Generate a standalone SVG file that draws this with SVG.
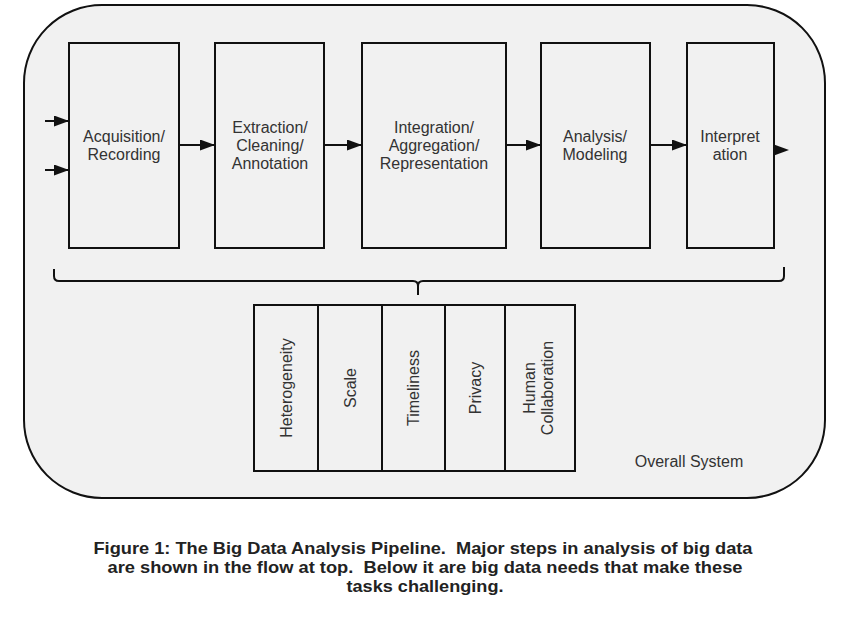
<svg xmlns="http://www.w3.org/2000/svg" width="851" height="632" viewBox="0 0 851 632">
<defs>
<marker id="ah" markerWidth="15" markerHeight="11" refX="15" refY="5.5" orient="auto" markerUnits="userSpaceOnUse">
<path d="M0,0 L15,5.5 L0,11 Z" fill="#111"/>
</marker>
<style>
.box{fill:none;stroke:#111;stroke-width:2}
.t{font-family:"Liberation Sans",Arial,sans-serif;font-size:16px;fill:#333;text-anchor:middle}
.c{stroke:#111;stroke-width:2;fill:none}
.cap{font-family:"Liberation Sans",Arial,sans-serif;font-size:17px;font-weight:bold;fill:#222;text-anchor:middle}
</style>
</defs>
<rect width="851" height="632" fill="#fff"/>
<g id="system">
<rect x="24" y="5" width="801" height="493" rx="78" ry="78" fill="#f1f1f1" stroke="#111" stroke-width="2"/>
<text x="689" y="467" class="t">Overall System</text>
</g>
<g id="acquisition">
<rect x="69" y="43" width="110" height="205" class="box"/>
<text class="t" x="124" y="142">Acquisition/</text>
<text class="t" x="124" y="160">Recording</text>
</g>
<g id="extraction">
<rect x="215" y="43" width="109" height="205" class="box"/>
<text class="t" x="270" y="133">Extraction/</text>
<text class="t" x="270" y="151">Cleaning/</text>
<text class="t" x="270" y="169">Annotation</text>
</g>
<g id="integration">
<rect x="362" y="43" width="144" height="205" class="box"/>
<text class="t" x="434" y="133">Integration/</text>
<text class="t" x="434" y="151">Aggregation/</text>
<text class="t" x="434" y="169">Representation</text>
</g>
<g id="analysis">
<rect x="541" y="43" width="109" height="205" class="box"/>
<text class="t" x="595" y="142">Analysis/</text>
<text class="t" x="595" y="160">Modeling</text>
</g>
<g id="interpretation">
<rect x="687" y="43" width="87" height="205" class="box"/>
<text class="t" x="730" y="142">Interpret</text>
<text class="t" x="730" y="160">ation</text>
</g>
<g id="connectors">
<line x1="45" y1="121" x2="69" y2="121" class="c" marker-end="url(#ah)"/>
<line x1="45" y1="170" x2="69" y2="170" class="c" marker-end="url(#ah)"/>
<line x1="179" y1="145" x2="215" y2="145" class="c" marker-end="url(#ah)"/>
<line x1="324" y1="145" x2="362" y2="145" class="c" marker-end="url(#ah)"/>
<line x1="506" y1="145" x2="541" y2="145" class="c" marker-end="url(#ah)"/>
<line x1="650" y1="145" x2="687" y2="145" class="c" marker-end="url(#ah)"/>
<path d="M774,144.5 L789,150 L774,155.5 Z" fill="#111"/>
<path d="M54,269 L54,276 Q54,281 59,281 L413,281 Q418,281 418,286 L418,295 M418,286 Q418,281 423,281 L779,281 Q784,281 784,276 L784,267" class="c"/>
</g>
<g id="needs">
<rect x="254" y="305" width="64" height="166" class="box"/>
<rect x="318" y="305" width="64" height="166" class="box"/>
<rect x="382" y="305" width="63" height="166" class="box"/>
<rect x="445" y="305" width="60" height="166" class="box"/>
<rect x="505" y="305" width="70" height="166" class="box"/>
<text class="t" transform="translate(292,388) rotate(-90)">Heterogeneity</text>
<text class="t" transform="translate(356,388) rotate(-90)">Scale</text>
<text class="t" transform="translate(419,388) rotate(-90)">Timeliness</text>
<text class="t" transform="translate(481,388) rotate(-90)">Privacy</text>
<text class="t" transform="translate(535,388) rotate(-90)">Human</text>
<text class="t" transform="translate(553,388) rotate(-90)">Collaboration</text>
</g>
<g id="caption">
<text class="cap" x="423" y="554" textLength="659" lengthAdjust="spacingAndGlyphs">Figure 1: The Big Data Analysis Pipeline.&#160; Major steps in analysis of big data</text>
<text class="cap" x="425" y="573" textLength="635" lengthAdjust="spacingAndGlyphs">are shown in the flow at top.&#160; Below it are big data needs that make these</text>
<text class="cap" x="425" y="592" textLength="157" lengthAdjust="spacingAndGlyphs">tasks challenging.</text>
</g>
</svg>
